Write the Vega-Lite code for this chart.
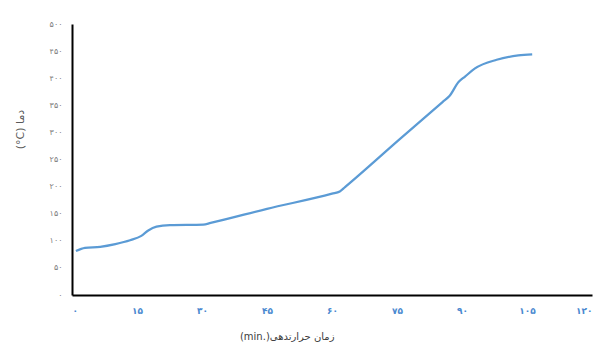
{
  "$schema": "https://vega.github.io/schema/vega-lite/v6.json",
  "width": 520,
  "height": 271,
  "autosize": "none",
  "padding": {"left": 72, "top": 24, "right": 19, "bottom": 67},
  "background": "white",
  "config": {
    "view": {"stroke": null},
    "font": "DejaVu Sans",
    "locale": {
      "number": {
        "decimal": ".",
        "thousands": ",",
        "grouping": [3],
        "currency": ["", ""],
        "numerals": ["۰", "۱", "۲", "۳", "۴", "۵", "۶", "۷", "۸", "۹"]
      }
    }
  },
  "data": {
    "values": [
      {"t": 0.9, "temp": 81},
      {"t": 3, "temp": 87},
      {"t": 6.5, "temp": 89},
      {"t": 10, "temp": 94},
      {"t": 13.4, "temp": 101},
      {"t": 16, "temp": 109},
      {"t": 17.6, "temp": 119},
      {"t": 19.5, "temp": 126},
      {"t": 22.6, "temp": 129},
      {"t": 30.3, "temp": 130},
      {"t": 32, "temp": 133},
      {"t": 45, "temp": 159},
      {"t": 60, "temp": 187},
      {"t": 61.8, "temp": 191},
      {"t": 63, "temp": 199},
      {"t": 75.7, "temp": 288},
      {"t": 85.5, "temp": 356},
      {"t": 87.1, "temp": 367},
      {"t": 89.2, "temp": 393},
      {"t": 90.7, "temp": 403},
      {"t": 93, "temp": 418},
      {"t": 98, "temp": 434},
      {"t": 103, "temp": 442},
      {"t": 106.2, "temp": 444}
    ]
  },
  "mark": {"type": "line", "color": "#5b9bd5", "strokeWidth": 2.25, "interpolate": "monotone"},
  "encoding": {
    "x": {
      "field": "t",
      "type": "quantitative",
      "scale": {"domain": [0, 120], "nice": false},
      "axis": {
        "values": [0, 15, 30, 45, 60, 75, 90, 105, 120],
        "format": "d",
        "grid": false,
        "ticks": false,
        "domainColor": "#000000",
        "domainWidth": 2,
        "labelColor": "#4a89d0",
        "labelFontWeight": "bold",
        "labelFontSize": 9,
        "labelPadding": 11,
        "title": "(min.)زمان حرارتدهی",
        "titleColor": "#404040",
        "titleFontWeight": "normal",
        "titleFontSize": 10,
        "titleAlign": "right",
        "titleBaseline": "middle",
        "titleX": 262,
        "titleY": 41
      }
    },
    "y": {
      "field": "temp",
      "type": "quantitative",
      "scale": {"domain": [0, 500], "nice": false},
      "axis": {
        "values": [0, 50, 100, 150, 200, 250, 300, 350, 400, 450, 500],
        "format": "d",
        "grid": false,
        "ticks": false,
        "domainColor": "#000000",
        "domainWidth": 2,
        "labelColor": "#7f7f7f",
        "labelFontSize": 8,
        "labelPadding": 10,
        "title": "(°C) دما",
        "titleColor": "#595959",
        "titleFontWeight": "normal",
        "titleFontSize": 11,
        "titleBaseline": "middle",
        "titleAlign": "center",
        "titleX": -52,
        "titleY": 105
      }
    }
  }
}
